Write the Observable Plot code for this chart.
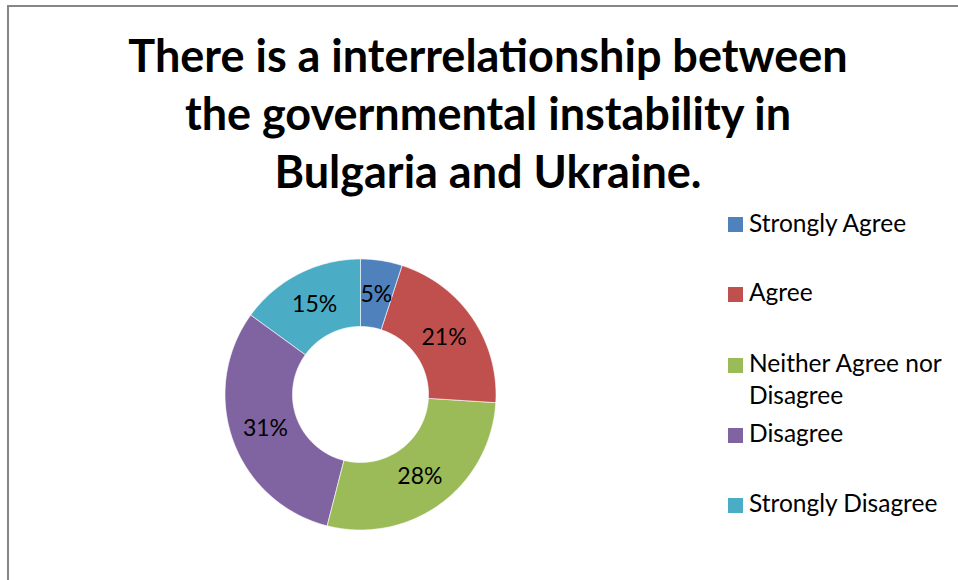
<!DOCTYPE html>
<html>
<head>
<meta charset="utf-8">
<script src="https://cdn.jsdelivr.net/npm/d3@7"></script>
<script src="https://cdn.jsdelivr.net/npm/@observablehq/plot@0.6"></script>
<style>
  html, body { margin: 0; padding: 0; background: #fff; }
  #wrap { position: relative; width: 958px; height: 580px; overflow: hidden; font-family: Lato, "Open Sans", sans-serif; }
  #frame { position: absolute; left: 7px; top: 5px; width: 1000px; height: 1000px; border: 2px solid #868686; box-sizing: border-box; }
  #title { position: absolute; left: 88px; width: 800px; top: 26px; text-align: center; font-weight: 700; font-size: 45px; line-height: 58px; color: #000; }
  #chart { position: absolute; left: 210px; top: 244px; }
  #legend { position: absolute; left: 728px; top: 0; font-size: 24.5px; color: #000; }
  .item { position: absolute; left: 0; white-space: nowrap; }
  .sw { position: absolute; left: 0; width: 15px; height: 15px; }
  .lab { position: absolute; left: 21px; line-height: 32px; }
</style>
</head>
<body>
<div id="wrap">
  <div id="frame"></div>
  <div id="title">There is a interrelationship between<br>the governmental instability in<br>Bulgaria and Ukraine.</div>
  <div id="chart"></div>
  <div id="legend"></div>
</div>
<script>
const categories = ["Strongly Agree", "Agree", "Neither Agree nor Disagree", "Disagree", "Strongly Disagree"];
const legendLines = [["Strongly Agree"], ["Agree"], ["Neither Agree nor", "Disagree"], ["Disagree"], ["Strongly Disagree"]];
const values = [5, 21, 28, 31, 15];
const labels = ["5%", "21%", "28%", "31%", "15%"];
const colors = ["#4F81BD", "#C0504D", "#9BBB59", "#8064A2", "#4BACC6"];

const outerR = 135.5, innerR = 68, labelR = 101;
const rows = categories.map((c, i) => ({cat: c, value: values[i], label: labels[i]}));
const arcs = d3.pie().sort(null).value(d => d.value)(rows);

const pts = [];
arcs.forEach(a => {
  const n = Math.max(8, Math.ceil((a.endAngle - a.startAngle) * 60));
  for (let k = 0; k <= n; k++) {
    const t = a.startAngle + (a.endAngle - a.startAngle) * k / n;
    pts.push({cat: a.data.cat, x: outerR * Math.sin(t), y: outerR * Math.cos(t)});
  }
  for (let k = n; k >= 0; k--) {
    const t = a.startAngle + (a.endAngle - a.startAngle) * k / n;
    pts.push({cat: a.data.cat, x: innerR * Math.sin(t), y: innerR * Math.cos(t)});
  }
});
const labelPts = arcs.map(a => {
  const m = (a.startAngle + a.endAngle) / 2;
  return {label: a.data.label, x: labelR * Math.sin(m), y: labelR * Math.cos(m)};
});

const plot = Plot.plot({
  width: 300, height: 300,
  margin: 0,
  x: {domain: [-150, 150], axis: null},
  y: {domain: [-150, 150], axis: null},
  color: {domain: categories, range: colors},
  style: {fontFamily: "Lato, 'Open Sans', sans-serif", background: "transparent", overflow: "visible"},
  marks: [
    Plot.line(pts, {x: "x", y: "y", z: "cat", fill: "cat", stroke: "#fff", strokeWidth: 0.6, curve: "linear-closed"}),
    Plot.text(labelPts, {x: "x", y: "y", text: "label", fontSize: 23, fill: "#000"})
  ]
});
document.getElementById("chart").appendChild(plot);

const baselines = [232, 301.5, 372.5, 442.5, 512.5];
const legend = document.getElementById("legend");
categories.forEach((c, i) => {
  const item = document.createElement("div");
  item.className = "item";
  item.style.top = (baselines[i] - 25.5) + "px";
  const sw = document.createElement("div");
  sw.className = "sw";
  sw.style.background = colors[i];
  sw.style.top = "10.5px";
  const lab = document.createElement("div");
  lab.className = "lab";
  lab.innerHTML = legendLines[i].join("<br>");
  item.appendChild(sw); item.appendChild(lab);
  legend.appendChild(item);
});
</script>
</body>
</html>
